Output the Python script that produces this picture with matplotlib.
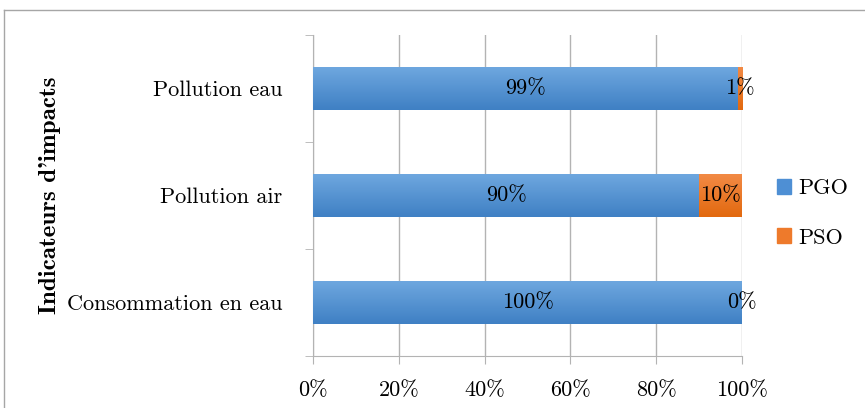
import matplotlib.pyplot as plt
import numpy as np
from matplotlib.patches import Rectangle
from matplotlib.lines import Line2D

categories = ["Consommation en eau", "Pollution air", "Pollution eau"]
pgo = [100, 90, 99]
pso = [0, 10, 1]
series_names = ["PGO", "PSO"]
xticks = [0, 20, 40, 60, 80, 100]

plt.rcParams['font.family'] = ['cmr10', 'DejaVu Serif']
plt.rcParams['axes.formatter.use_mathtext'] = True

fig = plt.figure(figsize=(8.65, 4.08), dpi=100)
ax = fig.add_axes([313/865, 1-356/408, (742-313)/865, (356-35)/408])

gris = '#B3B3B3'
y = np.arange(len(categories))
h = 0.4
b1 = ax.barh(y, pgo, height=h, color='#4E8FD4', label=series_names[0], zorder=3)
b2 = ax.barh(y, pso, left=pgo, height=h, color='#EE7A2B', label=series_names[1], zorder=3)

# degrade facon Excel
def degrade(bars, haut, bas):
    c1 = np.array(plt.matplotlib.colors.to_rgb(haut))
    c2 = np.array(plt.matplotlib.colors.to_rgb(bas))
    t = np.linspace(0, 1, 50)[:, None]
    img = (c1 * (1 - t) + c2 * t)[:, None, :]
    for p in bars:
        x0, y0 = p.get_x(), p.get_y()
        w, hh = p.get_width(), p.get_height()
        if w <= 0:
            continue
        im = ax.imshow(img, extent=[x0, x0 + w, y0, y0 + hh], aspect='auto',
                       origin='upper', zorder=4, interpolation='bilinear')
        im.set_clip_path(p)

degrade(b1, '#6EA7DF', '#3F80C4')
degrade(b2, '#F28A45', '#E2690F')

fs = 16
for i in range(len(categories)):
    ax.text(pgo[i] / 2, y[i], f"{pgo[i]}%", ha='center', va='center', fontsize=fs, zorder=5)
    ax.text(pgo[i] + pso[i] / 2, y[i], f"{pso[i]}%", ha='center', va='center', fontsize=fs, zorder=5)

ax.set_xlim(0, 100)
ax.set_ylim(-0.5, 2.5)
ax.set_xticks(xticks)
ax.set_xticklabels([f"{v}%" for v in xticks], fontsize=fs)
ax.set_yticks(y)
ax.set_yticklabels(categories, fontsize=fs)
ax.tick_params(axis='y', length=0, pad=22)
ax.set_yticks([-0.5, 0.5, 1.5, 2.5], minor=True)
ax.tick_params(axis='y', which='minor', length=6, color=gris, direction='out')
ax.tick_params(axis='x', length=6, color=gris, pad=12)
ax.grid(axis='x', color=gris, lw=1, zorder=0)
for s in ['top', 'right']:
    ax.spines[s].set_visible(False)
for s in ['left', 'bottom']:
    ax.spines[s].set_color(gris)

ax.set_ylabel("Indicateurs d'impacts", fontsize=18, family='cmb10')
ax.yaxis.set_label_coords((61 - 313) / (742 - 313), 0.5)

handles = [Rectangle((0, 0), 1, 1, color='#4E8FD4'), Rectangle((0, 0), 1, 1, color='#EE7A2B')]
fig.legend(handles, series_names, loc='center left', bbox_to_anchor=(757/865, 1-213/408),
           frameon=False, fontsize=16, handlelength=0.65, handleheight=0.65,
           handletextpad=0.3, labelspacing=1.35)

# cadre exterieur
fig.add_artist(Line2D([4/865, 4/865], [0, 1-10/408], color='#A6A6A6', lw=1))
fig.add_artist(Line2D([4/865, 1], [1-10/408, 1-10/408], color='#A6A6A6', lw=1))

fig.savefig('out.png', dpi=100)
